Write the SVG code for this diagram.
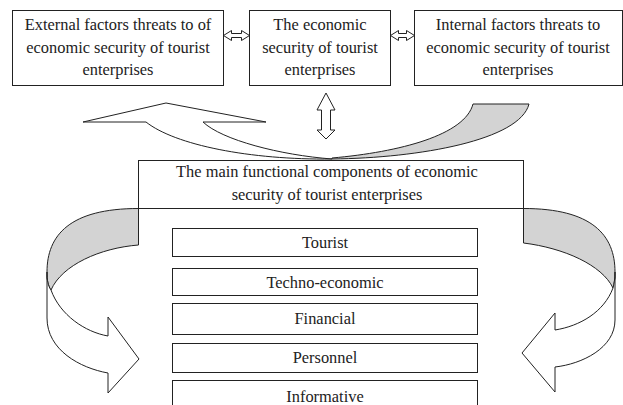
<svg xmlns="http://www.w3.org/2000/svg" width="623" height="405" viewBox="0 0 623 405">
<style>
.box{fill:#fff;stroke:#222;stroke-width:1}
.t{font-size:16.4px;fill:#222;text-anchor:middle}
.arr{fill:#fff;stroke:#222;stroke-width:1;stroke-linejoin:miter}
.band{fill:#d3d3d3;stroke:#222;stroke-width:1}
</style>
<rect width="623" height="405" fill="#fff"/>
<g id="connectors">
  <polygon class="arr" points="223.5,35.5 231.5,30.5 231.5,33.5 241.5,33.5 241.5,30.5 249.5,35.5 241.5,40.5 241.5,37.5 231.5,37.5 231.5,40.5"/>
  <polygon class="arr" points="390.5,35.5 398.5,30.5 398.5,33.5 406.5,33.5 406.5,30.5 414.5,35.5 406.5,40.5 406.5,37.5 398.5,37.5 398.5,40.5"/>
  <polygon class="arr" points="326,93 335,110 330.5,110 330.5,130 335,130 326,139 317,130 321.5,130 321.5,110 317,110"/>
  <g id="top-arrow">
    <path class="arr" d="M166,103 L83,122 L146,122 C175,145 250,160 332,159 C280,155 222,140 203,122 L266,122 Z"/>
    <path class="band" d="M332,159 C420,158 520,140 529,104 L473,104 C465,135 400,152 332,158 Z"/>
  </g>
  <g id="left-arrow">
    <path class="band" d="M138.5,208.5 C70,208.5 47,235 47,272 L47,278 C48,284 49,287 51,290 C62,265 100,248 138.5,245 Z"/>
    <path class="arr" d="M51,290 C60,315 85,332 108,336 L108,317 L139,359 L108,393 L108,373 C80,368 47,350 47,318 L47,272 C47,280 48,286 51,290 Z"/>
  </g>
  <g id="right-arrow">
    <path class="band" d="M523.5,208.5 C592,208.5 615,235 615,272 L615,278 C614,283 614,285 613,288 C602,265 564,248 523.5,243 Z"/>
    <path class="arr" d="M613,288 C604,312 580,326 555,330 L555,313 L522,353 L555,392 L555,367 C582,364 615,348 615,320 L615,272 C615,279 614,284 613,288 Z"/>
  </g>
</g>
<g font-family="'Liberation Serif', 'Times New Roman', serif">
<g id="external">
  <rect class="box" x="12.5" y="10.5" width="211" height="75"/>
  <text class="t" x="118" y="30">External factors threats to of</text>
  <text class="t" x="118" y="52.5">economic security of tourist</text>
  <text class="t" x="118" y="75">enterprises</text>
</g>
<g id="economic-security">
  <rect class="box" x="249.5" y="10.5" width="141" height="75"/>
  <text class="t" x="320" y="30">The economic</text>
  <text class="t" x="320" y="52.5">security of tourist</text>
  <text class="t" x="320" y="75">enterprises</text>
</g>
<g id="internal">
  <rect class="box" x="414.5" y="10.5" width="208" height="75"/>
  <text class="t" x="518" y="30">Internal factors threats to</text>
  <text class="t" x="518" y="52.5">economic security of tourist</text>
  <text class="t" x="518" y="75">enterprises</text>
</g>
<g id="main-components">
  <rect class="box" x="138.5" y="160.5" width="385" height="48"/>
  <path d="M138.5,208.5 V245 M523.5,208.5 V243" fill="none" stroke="#222" stroke-width="1"/>
  <text class="t" x="327" y="177">The main functional components of economic</text>
  <text class="t" x="327" y="200">security of tourist enterprises</text>
</g>
<g id="tourist">
  <rect class="box" x="172.5" y="228.5" width="305" height="28"/>
  <text class="t" x="325" y="248">Tourist</text>
</g>
<g id="techno-economic">
  <rect class="box" x="172.5" y="268.5" width="305" height="27"/>
  <text class="t" x="325" y="288">Techno-economic</text>
</g>
<g id="financial">
  <rect class="box" x="172.5" y="303.5" width="305" height="31"/>
  <text class="t" x="325" y="324">Financial</text>
</g>
<g id="personnel">
  <rect class="box" x="172.5" y="343.5" width="305" height="29"/>
  <text class="t" x="325" y="363">Personnel</text>
</g>
<g id="informative">
  <rect class="box" x="172.5" y="380.5" width="305" height="30"/>
  <text class="t" x="325" y="402">Informative</text>
</g>
</g>
</svg>
